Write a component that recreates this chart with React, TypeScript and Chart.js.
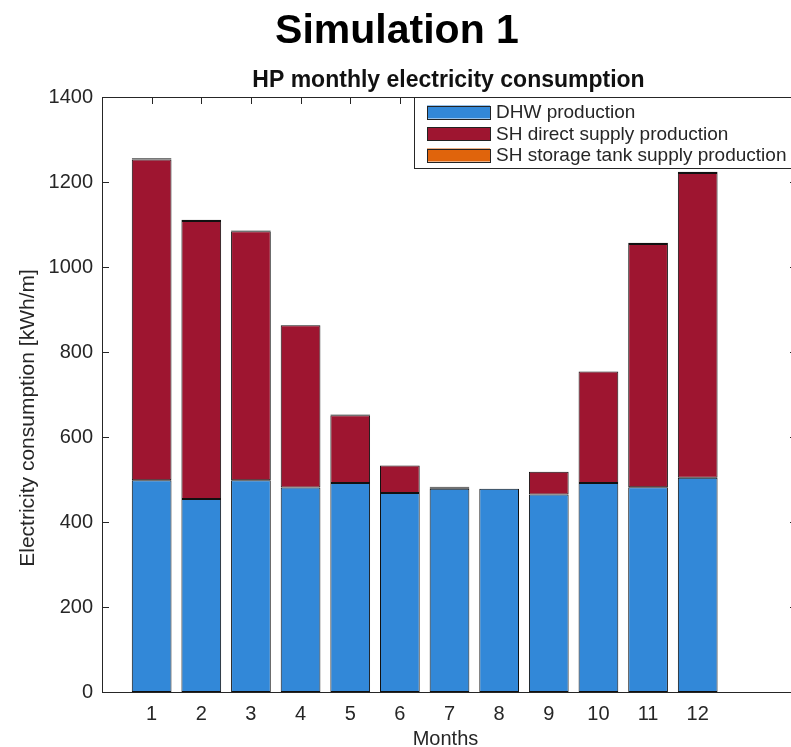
import React, { useEffect, useRef } from "react";
import { Chart, registerables } from "chart.js";

Chart.register(...registerables);

const months = [1, 2, 3, 4, 5, 6, 7, 8, 9, 10, 11, 12];
const dhwProduction = [498, 454, 498, 481, 492, 468, 478, 478, 465, 492, 482, 504];
const shDirectSupply = [755, 654, 586, 382, 159, 65, 4, 0, 53, 262, 572, 717];
const shStorageTank = [3, 3, 2, 0, 2, 0, 1, 0, 0, 0, 3, 3];
const yTicks = [0, 200, 400, 600, 800, 1000, 1200, 1400];

const seriesLabels = ["DHW production", "SH direct supply production", "SH storage tank supply production"];
const seriesColors = ["#3288d8", "#9e1530", "#e0640c"];

const mainTitle = "Simulation 1";
const subTitle = "HP monthly electricity consumption";
const xTitle = "Months";
const yTitle = "Electricity consumption [kWh/m]";

const FONT = "'Liberation Sans', Arial, Helvetica, sans-serif";
const AXIS_COLOR = "#262626";

const decorPlugin = {
  id: "decor",
  beforeDatasetsDraw(chart: any) {
    const { ctx, chartArea } = chart;
    const xs = chart.scales.x;
    const ys = chart.scales.y;
    const { left, right, top, bottom } = chartArea;
    ctx.save();
    ctx.strokeStyle = AXIS_COLOR;
    ctx.lineWidth = 1;
    ctx.beginPath();
    ctx.rect(Math.round(left) + 0.5, Math.round(top) + 0.5, Math.round(right - left), Math.round(bottom - top));
    ctx.stroke();
    const tl = 7;
    ctx.beginPath();
    yTicks.forEach((v) => {
      const y = Math.round(ys.getPixelForValue(v)) + 0.5;
      ctx.moveTo(left, y);
      ctx.lineTo(left + tl, y);
      ctx.moveTo(right, y);
      ctx.lineTo(right - tl, y);
    });
    months.forEach((m) => {
      const x = Math.round(xs.getPixelForValue(m)) + 0.5;
      ctx.moveTo(x, top);
      ctx.lineTo(x, top + tl);
      ctx.moveTo(x, bottom);
      ctx.lineTo(x, bottom - tl);
    });
    ctx.stroke();
    ctx.restore();
  },
  afterDraw(chart: any) {
    const { ctx, chartArea } = chart;
    const { left, right } = chartArea;
    ctx.save();
    ctx.fillStyle = "#000";
    ctx.textAlign = "center";
    ctx.textBaseline = "alphabetic";
    ctx.font = `bold 41px ${FONT}`;
    ctx.fillText(mainTitle, 397, 43);
    ctx.font = `bold 23px ${FONT}`;
    ctx.fillStyle = "#111";
    ctx.fillText(subTitle, (left + right) / 2 - 1, 87);
    ctx.fillStyle = AXIS_COLOR;
    ctx.font = `20px ${FONT}`;
    ctx.fillText(xTitle, (left + right) / 2 - 4, 745);
    ctx.save();
    ctx.translate(34, 418);
    ctx.rotate(-Math.PI / 2);
    ctx.font = `21px ${FONT}`;
    ctx.fillText(yTitle, 0, 0);
    ctx.restore();

    // legend
    const lx = 414, ly = 97, lw = 382, lh = 71;
    ctx.fillStyle = "#fff";
    ctx.fillRect(lx, ly, lw, lh);
    ctx.strokeStyle = AXIS_COLOR;
    ctx.lineWidth = 1;
    ctx.strokeRect(lx + 0.5, ly + 0.5, lw, lh);
    ctx.font = `19px ${FONT}`;
    ctx.textAlign = "left";
    ctx.textBaseline = "middle";
    chart.data.datasets.forEach((ds: any, i: number) => {
      const cy = 112 + i * 21.5;
      ctx.fillStyle = ds.backgroundColor;
      ctx.fillRect(427, cy - 6.5, 63, 13);
      ctx.strokeStyle = "#222";
      ctx.strokeRect(427.5, Math.round(cy - 6.5) + 0.5, 63, 13);
      ctx.fillStyle = AXIS_COLOR;
      ctx.fillText(ds.label, 496, cy + 1);
    });
    ctx.restore();
  },
};

export default function App() {
  const canvasRef = useRef<HTMLCanvasElement | null>(null);

  useEffect(() => {
    const canvas = canvasRef.current;
    if (!canvas) return;
    const seriesData = [dhwProduction, shDirectSupply, shStorageTank];
    const chart = new Chart(canvas, {
      type: "bar",
      data: {
        datasets: seriesData.map((vals, i) => ({
          label: seriesLabels[i],
          data: months.map((m, j) => ({ x: m, y: vals[j] })),
          backgroundColor: seriesColors[i],
          borderColor: "#111",
          borderWidth: 1,
          borderSkipped: false,
          barPercentage: 0.8,
          categoryPercentage: 1,
        })),
      },
      options: {
        responsive: false,
        animation: false,
        devicePixelRatio: 1,
        layout: { padding: { left: 0, top: 97, right: 23, bottom: 0 } },
        plugins: {
          legend: { display: false },
          tooltip: { enabled: false },
          title: { display: false },
        },
        scales: {
          x: {
            type: "linear",
            stacked: true,
            min: 0,
            max: 14,
            offset: false,
            grid: { display: false, drawTicks: false },
            border: { display: false },
            afterFit: (scale: any) => {
              scale.height = 55;
            },
            afterBuildTicks: (scale: any) => {
              scale.ticks = months.map((m) => ({ value: m }));
            },
            ticks: {
              autoSkip: false,
              maxRotation: 0,
              padding: 10,
              color: AXIS_COLOR,
              font: { family: FONT, size: 20 },
              callback: (v: any) => String(v),
            },
          },
          y: {
            stacked: true,
            min: 0,
            max: 1400,
            grid: { display: false, drawTicks: false },
            border: { display: false },
            afterFit: (scale: any) => {
              scale.width = 102;
            },
            afterBuildTicks: (scale: any) => {
              scale.ticks = yTicks.map((v) => ({ value: v }));
            },
            ticks: {
              padding: 9,
              color: AXIS_COLOR,
              font: { family: FONT, size: 20 },
              callback: (v: any) => String(v),
            },
          },
        },
      },
      plugins: [decorPlugin],
    });
    return () => chart.destroy();
  }, []);

  return (
    <div
      style={{
        position: "fixed",
        left: 0,
        top: 0,
        width: 791,
        height: 747,
        overflow: "hidden",
        background: "#fff",
      }}
    >
      <canvas ref={canvasRef} width={820} height={747} style={{ width: 820, height: 747, display: "block" }} />
    </div>
  );
}
